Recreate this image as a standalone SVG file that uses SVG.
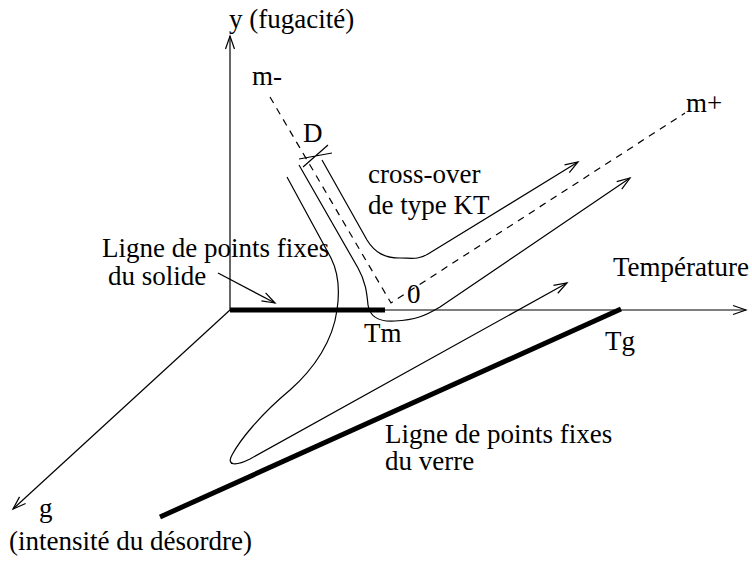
<svg xmlns="http://www.w3.org/2000/svg" width="752" height="561" viewBox="0 0 752 561">
<style>
text{font-family:"Liberation Serif","Times New Roman",serif;font-size:27px;fill:#000}
.ln{fill:none;stroke:#000;stroke-width:1.2}
.thick{fill:none;stroke:#000;stroke-width:5}
.dash{fill:none;stroke:#000;stroke-width:1.2;stroke-dasharray:7,6}
</style>
<defs>
<marker id="ah" markerUnits="userSpaceOnUse" markerWidth="30" markerHeight="30" refX="0" refY="0" viewBox="-20 -10 30 20" orient="auto" overflow="visible">
<path d="M-13,-4.5 L0,0 L-13,4.5" fill="none" stroke="#000" stroke-width="1.2"/>
</marker>
</defs>
<rect width="752" height="561" fill="#fff"/>
<g id="axes">
<path class="ln" d="M230,310 L230,36" marker-end="url(#ah)"/>
<path class="ln" d="M230,310 L746,310" marker-end="url(#ah)"/>
<path class="ln" d="M230,310 L13,509" marker-end="url(#ah)"/>
</g>
<g id="fixed-lines">
<path class="thick" d="M230,310 L385,310"/>
<path class="thick" d="M160,517 L621,309"/>
</g>
<g id="connectors">
<path class="dash" d="M270,97 L391,303 L685,113"/>
<path class="ln" d="M287,177 L331,258 C338,272 340,290 337,310 C333,340 315,368 290,390 C260,415 240,440 232,455 C226,466 236,466 250,459 L567,283" marker-end="url(#ah)"/>
<path class="ln" d="M299,165 L358,268 C366,282 367,295 368,305 C370,318 380,322 395,321 C415,320 425,316 440,307 L630,178" marker-end="url(#ah)"/>
<path class="ln" d="M322,160 L367,240 C375,253 385,258 400,258 C412,258 418,260 428,254 L578,162" marker-end="url(#ah)"/>
<path class="ln" d="M218,273 L275,303" marker-end="url(#ah)"/>
<path class="ln" d="M299,159 L332,153 M303,167 L328,145"/>
</g>
<g id="labels">
<text x="229" y="28">y (fugacité)</text>
<text x="252" y="85">m-</text>
<text x="303" y="142">D</text>
<text x="368" y="183">cross-over</text>
<text x="368" y="214">de type KT</text>
<text x="686" y="112">m+</text>
<text x="102" y="257">Ligne de points fixes</text>
<text x="108" y="285">du solide</text>
<text x="613" y="276">Température</text>
<text x="407" y="303">0</text>
<text x="364" y="342">Tm</text>
<text x="605" y="350">Tg</text>
<text x="385" y="443">Ligne de points fixes</text>
<text x="385" y="470">du verre</text>
<text x="39" y="517">g</text>
<text x="9" y="550">(intensité du désordre)</text>
</g>
</svg>
